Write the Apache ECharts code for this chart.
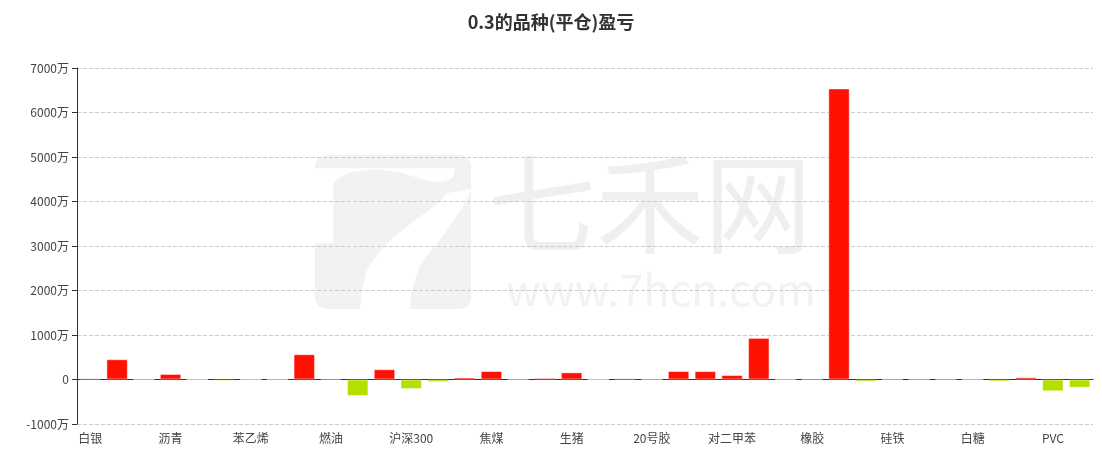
<!DOCTYPE html>
<html>
<head>
<meta charset="utf-8">
<script src="https://cdn.jsdelivr.net/npm/echarts@6/dist/echarts.min.js"></script>
<style>html,body{margin:0;padding:0;background:#fff}#c{width:1102px;height:463px}</style>
</head>
<body>
<div id="c"></div>
<script>
var titleText = '0.3的品种(平仓)盈亏';
var categories = ['白银','镍','铝','沥青','锌','螺纹钢','苯乙烯','铁矿石','棉花','燃油','豆粕','玻璃','沪深300','甲醇','纯碱','焦煤','焦炭','豆油','生猪','尿素','棕榈油','20号胶','铜','黄金','对二甲苯','原油','菜粕','橡胶','液化气','锰硅','硅铁','热卷','玉米','白糖','豆一','鸡蛋','PVC','乙二醇'];
// values in 万
var values = [25,455,5,124,0,-35,0,5,567,18,-370,230,-215,-60,45,190,10,35,160,0,25,10,190,188,100,935,5,15,6540,-50,-10,10,-10,5,-45,50,-265,-185];
var yMin = -1000, yMax = 7000, yStep = 1000;

var chart = echarts.init(document.getElementById('c'));
var font = '"Noto Sans CJK SC", "Noto Sans", sans-serif';
var wm = '#f2f2f2';
chart.setOption({
  animation: false,
  title: {text: titleText, left: 'center', top: 8, textStyle: {fontSize: 18, fontWeight: 'bold', color: '#333', fontFamily: font}},
  graphic: [
    {type: 'rect', z: -20, silent: true, shape: {x: 315, y: 155, width: 156, height: 154, r: 12}, style: {fill: wm}},
    {type: 'polygon', z: -19, silent: true, shape: {points: [[314,168.3],[455,168.3],[453.3,176.7],[448,180.5],[440,182],[430,181],[415,177],[400,172.5],[385,170],[367,170],[352,172],[340,177],[333.3,183.3],[333.3,243.3],[314,243.3]]}, style: {fill: '#fff'}},
    {type: 'polygon', z: -19, silent: true, shape: {points: [[446.7,193.3],[472,189],[462,208],[450,226],[440,240],[428,254],[420,265],[415,280],[411,295],[410,310],[360,310],[362,290],[366,272],[373.3,260],[385,245],[395,236],[406.7,226.7],[425,213],[440,202]]}, style: {fill: '#fff'}},
    {type: 'text', left: 488, top: 150, z: -10, silent: true, style: {text: '七禾网', fontSize: 108, fill: '#efefef', fontFamily: font}},
    {type: 'text', left: 506, top: 268, z: -10, silent: true, style: {text: 'www.7hcn.com', fontSize: 43, fill: '#f2f2f2', fontFamily: font}}
  ],
  grid: {left: 77, right: 9, top: 68, bottom: 39, containLabel: false},
  xAxis: {
    type: 'category', data: categories,
    axisLine: {onZero: true, lineStyle: {color: '#333'}},
    axisTick: {alignWithLabel: true, interval: 2, length: 5, lineStyle: {color: '#333'}},
    axisLabel: {interval: 2, color: '#444', fontSize: 12, fontFamily: font, margin: 8},
    splitLine: {show: false}
  },
  yAxis: {
    type: 'value', min: yMin, max: yMax, interval: yStep,
    axisLine: {show: true, lineStyle: {color: '#333'}},
    axisTick: {show: true, length: 5, lineStyle: {color: '#333'}},
    axisLabel: {color: '#444', fontSize: 12, fontFamily: font, formatter: function(v){return v === 0 ? '0' : v + '万';}},
    splitLine: {lineStyle: {type: 'dashed', color: '#ccc'}}
  },
  series: [{
    type: 'bar', data: values, barCategoryGap: '20%',
    itemStyle: {
      borderColor: 'rgba(255,255,255,0.45)', borderWidth: 1,
      color: function(p){ return p.value >= 0 ? '#ff1000' : '#b3e000'; }
    }
  }]
});
</script>
</body>
</html>
